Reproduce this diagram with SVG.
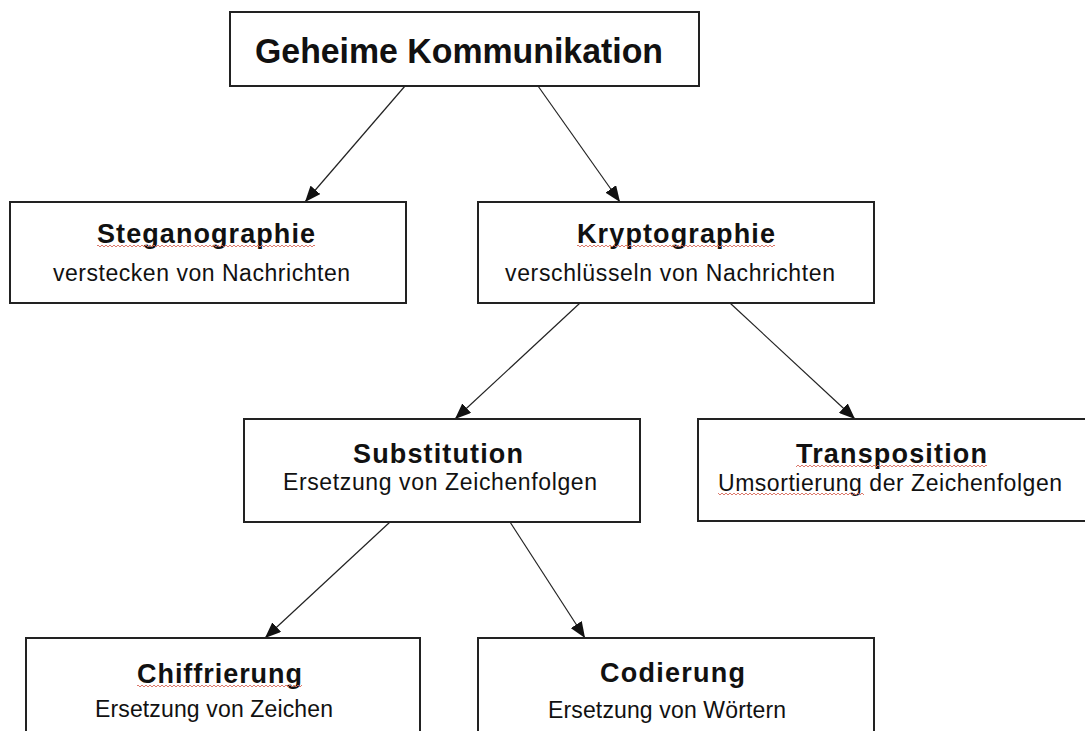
<svg xmlns="http://www.w3.org/2000/svg" width="1085" height="731" viewBox="0 0 1085 731">
<style>
.box{fill:#fff;stroke:#222;stroke-width:2}
.t{font-family:"Liberation Sans",Arial,sans-serif;font-weight:bold;fill:#111}
.s{font-family:"Liberation Sans",Arial,sans-serif;fill:#111}
.ln{stroke:#222;stroke-width:1.2;fill:none;marker-end:url(#ah)}
</style>
<defs>
<marker id="ah" markerUnits="userSpaceOnUse" markerWidth="16" markerHeight="13" refX="16" refY="6.5" orient="auto">
<path d="M0,0 L16,6.5 L0,13 Z" fill="#111"/>
</marker>
<pattern id="wave" width="4" height="4" patternUnits="userSpaceOnUse">
<path d="M0,3 L2,1 L4,3" stroke="#d86a5a" stroke-width="0.9" fill="none"/>
</pattern>
</defs>
<rect width="1085" height="731" fill="#fff"/>

<g id="connectors">
<line class="ln" x1="405" y1="86" x2="305" y2="202"/>
<line class="ln" x1="538" y1="86" x2="620" y2="202"/>
<line class="ln" x1="580" y1="303" x2="455" y2="419"/>
<line class="ln" x1="730" y1="303" x2="855" y2="419"/>
<line class="ln" x1="390" y1="522" x2="265" y2="638"/>
<line class="ln" x1="510" y1="522" x2="585" y2="638"/>
</g>

<g id="geheime">
<rect class="box" x="230" y="12" width="469" height="74"/>
<text class="t" x="255" y="63" font-size="35" textLength="408" lengthAdjust="spacingAndGlyphs">Geheime Kommunikation</text>
</g>

<g id="steganographie">
<rect class="box" x="10" y="202" width="396" height="101"/>
<text class="t" x="97" y="243" font-size="27" textLength="218" lengthAdjust="spacing">Steganographie</text>
<rect x="97" y="245" width="218" height="4" fill="url(#wave)"/>
<text class="s" x="53" y="281" font-size="23" textLength="297" lengthAdjust="spacing">verstecken von Nachrichten</text>
</g>

<g id="kryptographie">
<rect class="box" x="478" y="202" width="396" height="101"/>
<text class="t" x="577" y="243" font-size="27" textLength="198" lengthAdjust="spacing">Kryptographie</text>
<rect x="577" y="245" width="198" height="4" fill="url(#wave)"/>
<text class="s" x="505" y="281" font-size="23" textLength="330" lengthAdjust="spacing">verschlüsseln von Nachrichten</text>
</g>

<g id="substitution">
<rect class="box" x="244" y="419" width="396" height="103"/>
<text class="t" x="353" y="463" font-size="27" textLength="170" lengthAdjust="spacing">Substitution</text>
<text class="s" x="283" y="490" font-size="23" textLength="314" lengthAdjust="spacing">Ersetzung von Zeichenfolgen</text>
</g>

<g id="transposition">
<rect class="box" x="698" y="419" width="396" height="102"/>
<text class="t" x="796" y="463" font-size="27" textLength="191" lengthAdjust="spacing">Transposition</text>
<rect x="796" y="465" width="191" height="4" fill="url(#wave)"/>
<text class="s" x="718" y="491" font-size="23" textLength="344" lengthAdjust="spacing">Umsortierung der Zeichenfolgen</text>
<rect x="718" y="493" width="146" height="4" fill="url(#wave)"/>
</g>

<g id="chiffrierung">
<rect class="box" x="26" y="638" width="394" height="112"/>
<text class="t" x="137" y="683" font-size="27" textLength="165" lengthAdjust="spacing">Chiffrierung</text>
<rect x="137" y="685" width="165" height="4" fill="url(#wave)"/>
<text class="s" x="95" y="717" font-size="23" textLength="238" lengthAdjust="spacing">Ersetzung von Zeichen</text>
</g>

<g id="codierung">
<rect class="box" x="478" y="638" width="396" height="112"/>
<text class="t" x="600" y="682" font-size="27" textLength="145" lengthAdjust="spacing">Codierung</text>
<text class="s" x="548" y="718" font-size="23" textLength="238" lengthAdjust="spacing">Ersetzung von Wörtern</text>
</g>
</svg>
